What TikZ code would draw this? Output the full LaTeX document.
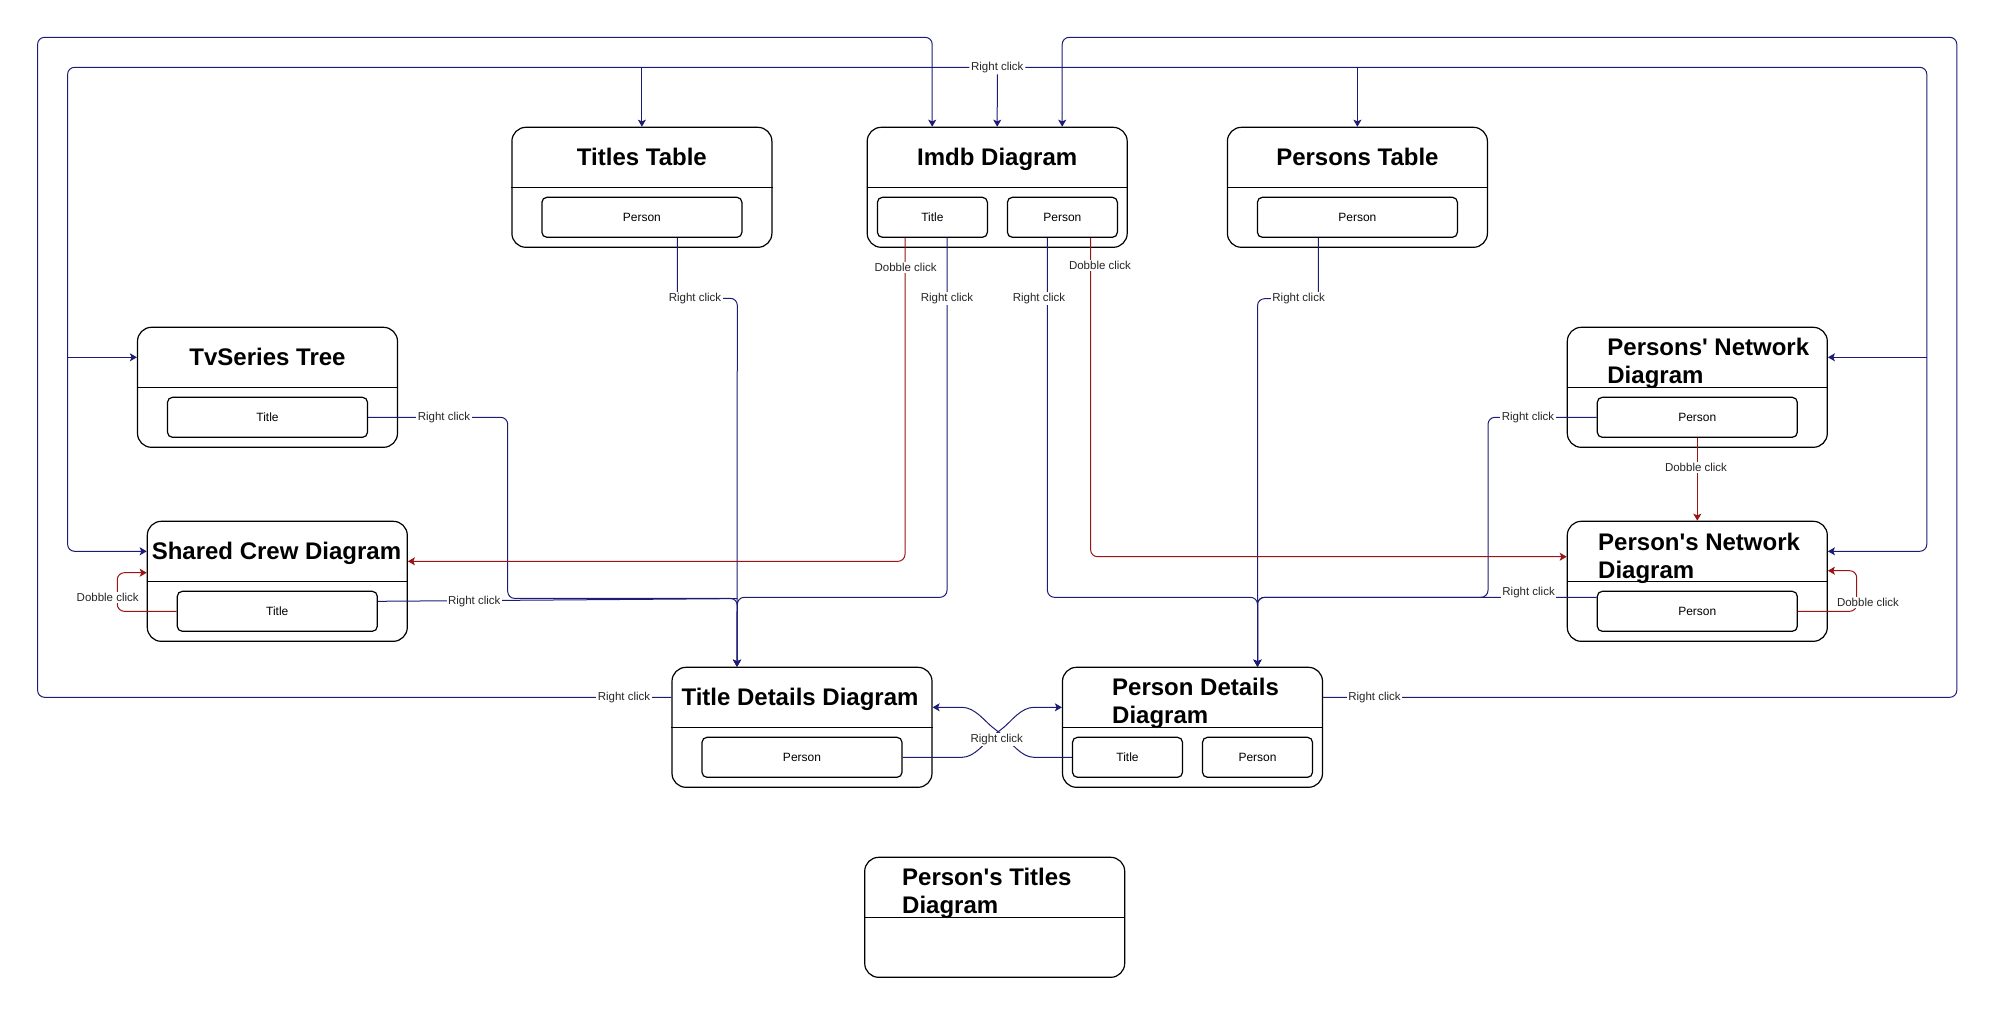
\documentclass[tikz,border=0pt]{standalone}
\usepackage{fontspec}
\setmainfont{Liberation Sans}
\usetikzlibrary{arrows.meta}
\definecolor{navy}{HTML}{1C1C74}
\definecolor{dred}{HTML}{9A1414}
\definecolor{lbltext}{HTML}{262626}
\newcommand\sq{\XeTeXglyph\XeTeXcharglyph"0027\relax}
\begin{document}
\begin{tikzpicture}[x=0.5pt,y=-0.5pt,
 bigbox/.style={draw=black, line width=0.6pt, rounded corners=7pt, minimum width=130pt, minimum height=60pt, inner sep=0pt},
 subbox/.style={draw=black, line width=0.6pt, rounded corners=2.5pt, minimum width=100pt, minimum height=20pt, inner sep=0pt, font=\fontsize{6}{7}\selectfont},
 nsubbox/.style={subbox, minimum width=55pt},
 htitle/.style={font=\bfseries\fontsize{12}{14}\selectfont, inner sep=0pt, text height=8.6pt, text depth=0pt},
 lbl/.style={fill=white, inner sep=0.7pt, font=\fontsize{5.75}{6.5}\selectfont, text=lbltext},
 bl/.style={draw=navy, line width=0.5pt, rounded corners=3.5pt},
 rl/.style={draw=dred, line width=0.5pt, rounded corners=3.5pt},
 tip/.style={-{Stealth[length=3.5pt,width=4pt,inset=0.8pt]}},
 sep/.style={draw=black, line width=0.6pt}
]
\useasboundingbox (0,0) rectangle (1997,1009);

% ---------------- boxes ----------------
\node[bigbox] (tt) at (641.9,187.3) {};
\draw[sep] (tt.west) -- (tt.east);
\node[htitle] (ttH) at (641.9,157.3) {Titles Table};
\node[subbox] (ttP) at (641.9,217.3) {Person};

\node[bigbox] (imdb) at (997.2,187.3) {};
\draw[sep] (imdb.west) -- (imdb.east);
\node[htitle] (imdbH) at (997.2,157.3) {Imdb Diagram};
\node[nsubbox] (imdbT) at (932.4,217.3) {Title};
\node[nsubbox] (imdbP) at (1062.4,217.3) {Person};

\node[bigbox] (pt) at (1357.4,187.3) {};
\draw[sep] (pt.west) -- (pt.east);
\node[htitle] (ptH) at (1357.4,157.3) {Persons Table};
\node[subbox] (ptP) at (1357.4,217.3) {Person};

\node[bigbox] (tv) at (267.5,387.3) {};
\draw[sep] (tv.west) -- (tv.east);
\node[htitle] (tvH) at (267.5,357.3) {TvSeries Tree};
\node[subbox] (tvT) at (267.5,417.3) {Title};

\node[bigbox] (pnets) at (1697.3,387.3) {};
\draw[sep] (pnets.west) -- (pnets.east);
\node[htitle, anchor=west] (pnetsH1) at (1607,346.7) {Persons\sq\ Network};
\node[htitle, anchor=west] (pnetsH2) at (1607,374.7) {Diagram};
\node[subbox] (pnetsP) at (1697.3,417.3) {Person};

\node[bigbox] (sc) at (277.3,581.3) {};
\draw[sep] (sc.west) -- (sc.east);
\node[htitle] (scH) at (276.5,551.3) {Shared Crew Diagram};
\node[subbox] (scT) at (277.3,611.3) {Title};

\node[bigbox] (pnet) at (1697.3,581.3) {};
\draw[sep] (pnet.west) -- (pnet.east);
\node[htitle, anchor=west] (pnetH1) at (1597.8,541.7) {Person\sq s Network};
\node[htitle, anchor=west] (pnetH2) at (1597.8,569.7) {Diagram};
\node[subbox] (pnetP) at (1697.3,611.3) {Person};

\node[bigbox] (td) at (802,727.3) {};
\draw[sep] (td.west) -- (td.east);
\node[htitle] (tdH) at (800,697.3) {Title Details Diagram};
\node[subbox] (tdP) at (802,757.3) {Person};

\node[bigbox] (pd) at (1192.5,727.3) {};
\draw[sep] (pd.west) -- (pd.east);
\node[htitle, anchor=west] (pdH1) at (1111.8,687.3) {Person Details};
\node[htitle, anchor=west] (pdH2) at (1111.8,715) {Diagram};
\node[nsubbox] (pdT) at (1127.5,757.3) {Title};
\node[nsubbox] (pdP) at (1257.5,757.3) {Person};

\node[bigbox] (ptd) at (994.7,917.3) {};
\draw[sep] (ptd.west) -- (ptd.east);
\node[htitle, anchor=west] (ptdH1) at (901.8,876.7) {Person\sq s Titles};
\node[htitle, anchor=west] (ptdH2) at (901.8,904.5) {Diagram};

% ---------------- inner loop (top right click) ----------------
\node[lbl] (rcTop) at (997.3,67.3) {Right click};
\draw[bl,tip] (rcTop.west) -- (67.6,67.3) |- ([yshift=15pt]sc.west);
\draw[bl,tip] (67.6,357.3) -- ([yshift=15pt]tv.west);
\draw[bl,tip] (tt.north |- rcTop) -- (tt.north);
\draw[bl,tip] (rcTop.south) -- (imdb.north);
\draw[bl,tip] (rcTop.east) -- (1926.8,67.3) |- ([yshift=15pt]pnet.east);
\draw[bl,tip] (1926.8,357.3) -- ([yshift=15pt]pnets.east);
\draw[bl,tip] (pt.north |- rcTop) -- (pt.north);

% ---------------- outer loops ----------------
\draw[bl,tip] ([yshift=15pt]td.west) -- (37.6,697.3) -- (37.6,37.3) -| ([xshift=-32.5pt]imdb.north);
\node[lbl] (rcTD) at (624,697.3) {Right click};
\draw[bl,tip] ([yshift=15pt]pd.east) -- (1956.8,697.3) -- (1956.8,37.3) -| ([xshift=32.5pt]imdb.north);
\node[lbl] (rcPD) at (1374.5,697.3) {Right click};

% ---------------- into Title Details ----------------
\draw[bl] ([yshift=5pt]scT.east) -- (737.3,598.6);
\draw[bl,tip] (tvT.east) -- (507.7,417.3) -- (507.7,598.4) -- (737.3,598.4) -- ([xshift=-32.5pt]td.north);
\draw[bl,tip] ([xshift=17.7pt]ttP.south) -- (677.3,298.3) -- (737.3,298.3) -- ([xshift=-32.5pt]td.north);
\draw[bl,tip] ([xshift=7.3pt]imdbT.south) -- (947,597.3) -- (737.3,597.3) -- ([xshift=-32.5pt]td.north);
\node[lbl] (rcTT) at (695,298.3) {Right click};
\node[lbl] (rcIT) at (947,298.3) {Right click};
\node[lbl] (rcTV) at (444,417.5) {Right click};
\node[lbl] (rcSC) at (474.3,601.5) {Right click};

% ---------------- into Person Details ----------------
\draw[bl,tip] ([xshift=-7.5pt]imdbP.south) -- (1047.4,597.3) -- (1257.5,597.3) -- ([xshift=32.5pt]pd.north);
\draw[bl,tip] ([xshift=-19.5pt]ptP.south) -- (1318.4,298.7) -- (1257.5,298.7) -- ([xshift=32.5pt]pd.north);
\draw[bl,tip] (pnetsP.west) -- (1488,417.3) -- (1488,597.3) -- (1257.5,597.3) -- ([xshift=32.5pt]pd.north);
\draw[bl,tip] ([yshift=7pt]pnetP.west) -- (1257.5,597.3) -- ([xshift=32.5pt]pd.north);
\node[lbl] (rcIP) at (1039,298.7) {Right click};
\node[lbl] (rcPT) at (1298.6,298.7) {Right click};
\node[lbl] (rcPNS) at (1528,417.3) {Right click};
\node[lbl] (rcPN) at (1528.6,593) {Right click};

% ---------------- double clicks (red) ----------------
\draw[rl,tip] ([xshift=-13.7pt]imdbT.south) |- ([yshift=10pt]sc.east);
\node[lbl] (dcIT) at (905.6,267.7) {Dobble click};
\draw[rl,tip] ([xshift=14.1pt]imdbP.south) |- ([yshift=12.3pt]pnet.west);
\node[lbl] (dcIP) at (1100,265.7) {Dobble click};
\draw[rl,tip] (pnetsP.south) -- (pnet.north);
\node[lbl] (dcPNS) at (1696,467.3) {Dobble click};
\draw[rl,tip] (pnetP.east) -- (1856.7,611.3) -- (1856.7,570.7) -- ([yshift=5.3pt]pnet.east);
\node[lbl] (dcPN) at (1868,602.7) {Dobble click};
\draw[rl,tip] (scT.west) -- (117.3,611.3) -- (117.3,572.7) -- ([yshift=4.3pt]sc.west);
\node[lbl] (dcSC) at (107.7,597.3) {Dobble click};

% ---------------- crossing curves ----------------
\draw[bl,tip] (tdP.east) -- (955,757.3) .. controls (975,757.3) and (985,742) .. (998.3,731.7) .. controls (1011,721.5) and (1021,707.3) .. (1041,707.3) -- ([yshift=10pt]pd.west);
\draw[bl,tip] (pdT.west) -- (1041,757.3) .. controls (1021,757.3) and (1011,742) .. (998.3,731.7) .. controls (985,721.5) and (975,707.3) .. (955,707.3) -- ([yshift=10pt]td.east);
\node[lbl] (rcX) at (996.7,739.5) {Right click};
\end{tikzpicture}
\end{document}
